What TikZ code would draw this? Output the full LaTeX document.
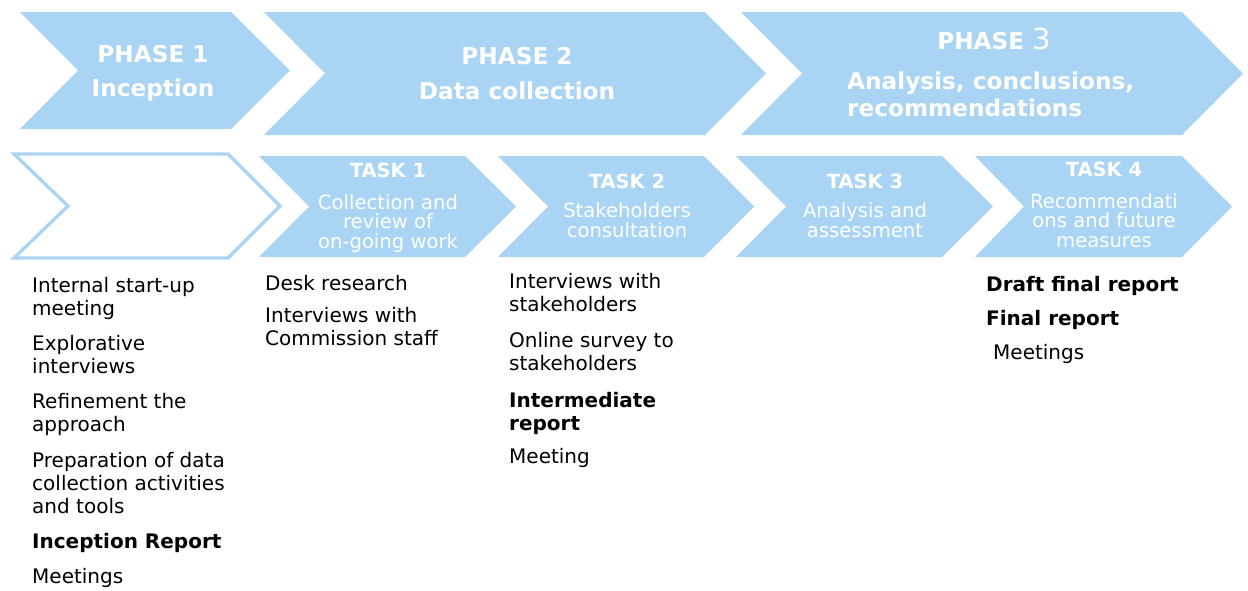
\documentclass[tikz,border=0pt]{standalone}
\usepackage{fontspec}
\setmainfont{DejaVu Sans}
\definecolor{chev}{RGB}{169,212,244}
\begin{document}
\begin{tikzpicture}[x=1pt,y=-1pt,
  chevfill/.style={fill=chev,draw=none},
  phasetxt/.style={text=white,font=\fontsize{23.2}{27}\selectfont\bfseries,inner sep=0pt,anchor=base,align=center},
  tasktitle/.style={text=white,font=\fontsize{19.5}{20}\selectfont\bfseries,inner sep=0pt,anchor=base},
  taskdesc/.style={text=white,font=\fontsize{19.6}{19.5}\selectfont,inner sep=0pt,anchor=base,align=center},
  item/.style={text=black,font=\fontsize{20}{23}\selectfont,inner sep=0pt,anchor=base west,align=left},
  bolditem/.style={item,font=\fontsize{20}{23}\selectfont\bfseries}]
\useasboundingbox (0,0) rectangle (1248,590);
% phases
\fill[chevfill] (20,12) -- (231,12) -- (290,70.5) -- (231,129) -- (20,129) -- (78,70.5) -- cycle;
\fill[chevfill] (264,12) -- (705,12) -- (766,73.5) -- (705,135) -- (264,135) -- (325,73.5) -- cycle;
\fill[chevfill] (741,12) -- (1182,12) -- (1243,73.5) -- (1182,135) -- (741,135) -- (802,73.5) -- cycle;
\node[phasetxt] (p1a) at (153,62) {PHASE 1};
\node[phasetxt] (p1b) at (153,96) {Inception};
\node[phasetxt] (p2a) at (517,64) {PHASE 2};
\node[phasetxt] (p2b) at (517,99) {Data collection};
\node[phasetxt] (p3a) at (994,49) {PHASE {\fontsize{29}{29}\selectfont\mdseries 3}};
\node[phasetxt,anchor=base west] (p3b) at (847,89) {Analysis, conclusions,};
\node[phasetxt,anchor=base west] (p3c) at (847,116) {recommendations};
% tasks
\draw[chev,line width=3.3pt] (14,154) -- (228,154) -- (280,206) -- (228,258) -- (14,258) -- (68,206) -- cycle;
\fill[chevfill] (259,156) -- (465,156) -- (516,206.5) -- (465,257) -- (259,257) -- (309,206.5) -- cycle;
\fill[chevfill] (498,156) -- (704,156) -- (754,206.5) -- (704,257) -- (498,257) -- (548,206.5) -- cycle;
\fill[chevfill] (736,156) -- (942,156) -- (993,206.5) -- (942,257) -- (736,257) -- (786,206.5) -- cycle;
\fill[chevfill] (975,156) -- (1182,156) -- (1232,206.5) -- (1182,257) -- (975,257) -- (1024,206.5) -- cycle;
\node[tasktitle] (t1) at (388,177) {TASK 1};
\node[taskdesc] (t1d) at (388,248) {Collection and\\review of\\on-going work};
\node[tasktitle] (t2) at (627,188) {TASK 2};
\node[taskdesc] (t2d) at (627,237) {Stakeholders\\consultation};
\node[tasktitle] (t3) at (865,188) {TASK 3};
\node[taskdesc] (t3d) at (865,237) {Analysis and\\assessment};
\node[tasktitle] (t4) at (1104,176) {TASK 4};
\node[taskdesc] (t4d) at (1104,247) {Recommendati\\ons and future\\measures};
% column 1
\node[item] (a1) at (32,315) {Internal start-up\\meeting};
\node[item] (a2) at (32,373) {Explorative\\interviews};
\node[item] (a3) at (32,431) {Refinement the\\approach};
\node[item] (a4) at (32,513) {Preparation of data\\collection activities\\and tools};
\node[bolditem] (a5) at (32,548) {Inception Report};
\node[item] (a6) at (32,583) {Meetings};
% column 2
\node[item] (b1) at (265,290) {Desk research};
\node[item] (b2) at (265,345) {Interviews with\\Commission staff};
% column 3
\node[item] (c1) at (509,311) {Interviews with\\stakeholders};
\node[item] (c2) at (509,370) {Online survey to\\stakeholders};
\node[bolditem] (c3) at (509,430) {Intermediate\\report};
\node[item] (c4) at (509,463) {Meeting};
% column 4
\node[bolditem] (d1) at (986,291) {Draft final report};
\node[bolditem] (d2) at (986,325) {Final report};
\node[item] (d3) at (993,359) {Meetings};
\end{tikzpicture}
\end{document}
